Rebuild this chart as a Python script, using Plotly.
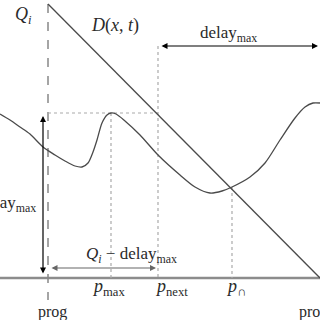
import plotly.graph_objects as go

# Key positions (horizontal, vertical)
prog = 48
p_max = 111
p_next = 158
p_cap = 232
prog_end = 320
Q_i = 274
peak_level = 165
delay_top = 232

# Curve samples
curve_x = [0, 10, 20, 30, 43, 55, 65, 75, 82, 88, 93, 97, 102, 107, 111, 116, 125, 140, 158, 180, 195, 210, 222, 232, 250, 265, 280, 295, 305, 313, 320]
curve_y = [164, 158, 151, 144, 131, 123, 117, 112, 111, 115, 126, 138, 155, 163, 165, 164, 157, 143, 123, 103, 91, 85, 87, 91, 101, 115, 138, 160, 171, 175, 175]

# Diagonal D(x,t)
diag_x = [prog, prog_end]
diag_y = [Q_i, 0]

FONT = "Liberation Serif"
dark = "#4a4a4a"
dot = "#aaaaaa"

fig = go.Figure()

# baseline axis
fig.add_trace(go.Scatter(x=[0, 320], y=[0, 0], mode="lines",
                         line=dict(color="#8c8c8c", width=2.5), hoverinfo="skip"))
# dashed prog line
fig.add_trace(go.Scatter(x=[prog, prog], y=[Q_i, -22], mode="lines",
                         line=dict(color="#888888", width=1.5, dash="dash"), hoverinfo="skip"))
# dotted helper lines
for xs, ys in [([p_max, p_max], [peak_level, 0]),
               ([p_next, p_next], [delay_top, 0]),
               ([p_cap, p_cap], [91, 0]),
               ([prog, p_next], [peak_level, peak_level])]:
    fig.add_trace(go.Scatter(x=xs, y=ys, mode="lines",
                             line=dict(color=dot, width=1.2, dash="dot"), hoverinfo="skip"))
# diagonal
fig.add_trace(go.Scatter(x=diag_x, y=diag_y, mode="lines",
                         line=dict(color=dark, width=1.3), hoverinfo="skip"))
# curve
fig.add_trace(go.Scatter(x=curve_x, y=curve_y, mode="lines",
                         line=dict(color=dark, width=1.3, shape="spline", smoothing=0.8),
                         hoverinfo="skip"))

ann = []
def arrow(x0, y0, x1, y1, color="black", both=False):
    ann.append(dict(x=x1, y=y1, ax=x0, ay=y0, xref="x", yref="y", axref="x", ayref="y",
                    text="", showarrow=True, arrowhead=2, arrowsize=1, arrowwidth=1.2,
                    arrowcolor=color, arrowside="end+start" if both else "end"))

arrow(p_next + 2, delay_top, prog_end - 2, delay_top, both=True)
arrow(43, 3, 43, 162, both=True)
arrow(prog + 2, 10, p_next - 2, 10, color="#666666", both=True)

def label(x, y, t, anchor="center", size=16):
    ann.append(dict(x=x, y=y, xref="x", yref="y", text=t, showarrow=False,
                    xanchor=anchor, yanchor="middle",
                    font=dict(family=FONT, size=size, color="#2a2a2a")))

label(23, 263, "<i>Q<sub>i</sub></i>", size=18)
label(115, 253, "<i>D</i>(<i>x</i>, <i>t</i>)", size=18)
label(228, 244, "delay<sub>max</sub>", size=17)
label(38, 74, "delay<sub>max</sub>", anchor="right", size=17)
label(131, 23, "<i>Q<sub>i</sub></i> − delay<sub>max</sub>", size=17)
label(108, -9, "<i>p</i><sub>max</sub>", size=18)
label(171, -9, "<i>p</i><sub>next</sub>", size=18)
label(236, -9, "<i>p</i><sub>∩</sub>", size=18)
label(52, -34, "prog", size=16)
label(297, -34, "prog", anchor="left", size=16)

fig.update_layout(
    width=320, height=320, margin=dict(l=0, r=0, t=0, b=0),
    paper_bgcolor="white", plot_bgcolor="white", showlegend=False,
    xaxis=dict(range=[0, 320], visible=False, fixedrange=True),
    yaxis=dict(range=[-42, 278], visible=False, fixedrange=True),
    annotations=ann,
)
fig.write_html("out.html")
